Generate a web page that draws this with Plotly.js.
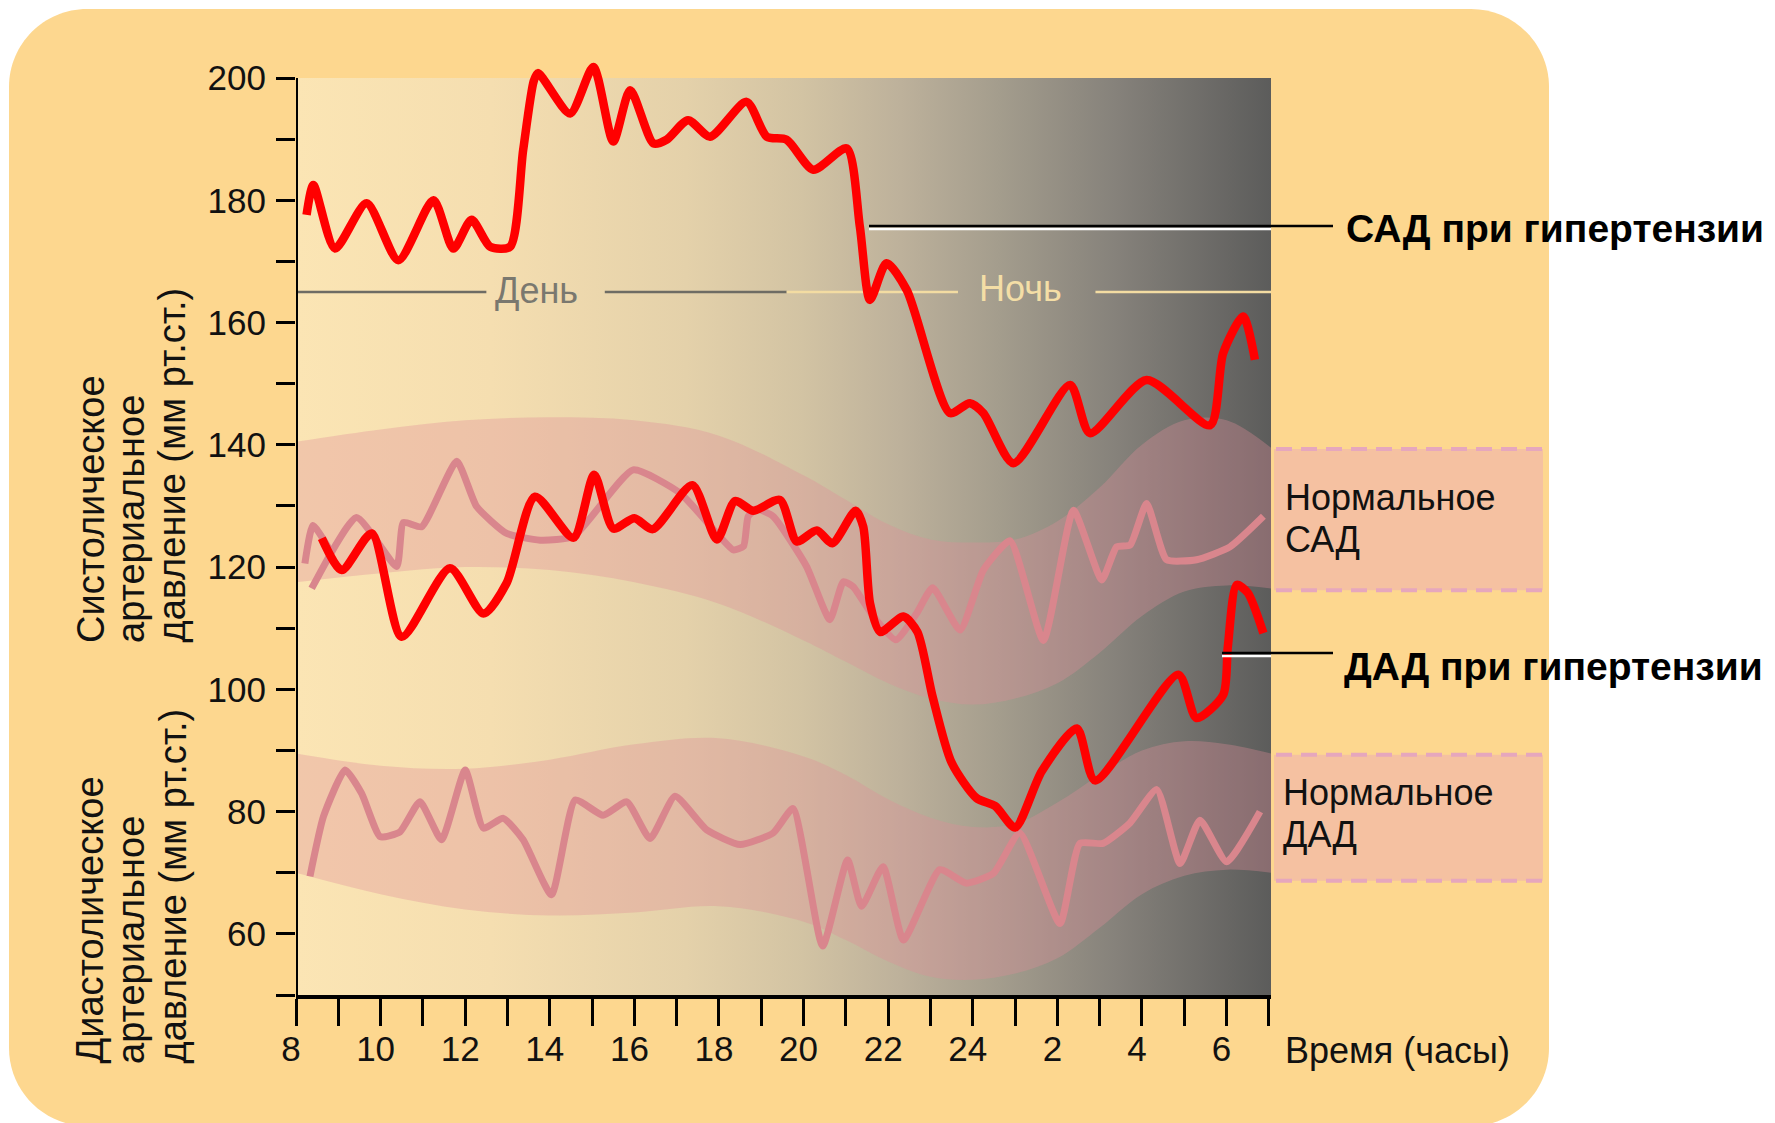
<!DOCTYPE html>
<html>
<head>
<meta charset="utf-8">
<script src="https://cdn.plot.ly/plotly-3.0.1.min.js"></script>
<style>
  html, body { margin: 0; padding: 0; background: #ffffff; }
  #chart { width: 1775px; height: 1123px; }
</style>
</head>
<body>
<div id="chart"></div>
<script>
// ---------------- DATA ----------------
// Time axis: hours from 8:00 (8) through midnight (24) to 7:00 next morning (31)
const hourTicks = [8,9,10,11,12,13,14,15,16,17,18,19,20,21,22,23,24,25,26,27,28,29,30,31];
const hourTickLabels = ['8','','10','','12','','14','','16','','18','','20','','22','','24','','2','','4','','6',''];
const pressureTicks = [50,60,70,80,90,100,110,120,130,140,150,160,170,180,190,200];
const pressureTickLabels = ['','60','','80','','100','','120','','140','','160','','180','','200'];

// Systolic BP with hypertension (САД при гипертензии)
const sadHyperTime  = [8.25, 8.41, 8.92, 9.67, 10.42, 11.25, 11.72, 12.15, 12.59, 13.06, 13.37, 13.62, 13.72, 14.48, 15.03, 15.50, 15.90, 16.45, 16.76, 17.27, 17.79, 18.65, 19.13, 19.60, 20.23, 21.02, 21.33, 21.57, 21.96, 22.44, 23.46, 23.93, 24.25, 24.96, 26.30, 26.77, 28.11, 29.61, 29.92, 30.39, 30.67];
const sadHyperValue = [177.6, 182.5, 172.1, 179.5, 170.2, 180.0, 172.1, 176.8, 172.4, 172.4, 188.2, 199.5, 200.8, 194.2, 201.8, 189.6, 198.0, 189.3, 189.9, 193.1, 190.4, 196.1, 190.4, 189.9, 185.0, 188.5, 175.7, 163.7, 169.7, 165.3, 145.2, 146.8, 145.2, 137.0, 149.8, 141.9, 150.6, 143.2, 155.0, 161.0, 153.9];

// Diastolic BP with hypertension (ДАД при гипертензии)
const dadHyperTime  = [8.61, 9.08, 9.79, 10.50, 11.64, 12.43, 12.98, 13.65, 14.56, 15.05, 15.50, 16.00, 16.43, 17.37, 17.95, 18.38, 18.81, 19.44, 19.84, 20.31, 20.68, 21.23, 21.41, 21.57, 21.81, 22.36, 22.69, 23.05, 23.50, 24.09, 24.53, 25.00, 25.63, 26.46, 26.89, 28.86, 29.29, 29.92, 30.03, 30.24, 30.50, 30.87];
const dadHyperValue = [124.7, 119.5, 125.5, 108.6, 119.8, 112.4, 117.4, 131.5, 124.8, 135.1, 126.3, 128.0, 126.2, 133.4, 124.5, 130.8, 129.2, 131.0, 124.2, 126.0, 123.9, 129.2, 126.6, 114.1, 109.4, 111.9, 109.4, 98.8, 88.0, 82.2, 80.9, 77.4, 86.6, 93.6, 85.1, 102.4, 95.3, 99.1, 107.0, 117.1, 115.8, 109.2];

// Normal systolic BP (Нормальное САД) – short starting stroke, then main curve
const sadNormalTime  = [8.21, 8.40, 8.84, null, 8.37, 9.43, 10.38, 10.54, 10.97, 11.80, 12.27, 12.98, 13.77, 14.56, 15.97, 17.08, 17.95, 18.34, 18.58, 18.69, 18.89, 19.28, 20.07, 20.62, 20.94, 21.17, 21.65, 22.18, 22.67, 23.05, 23.70, 24.25, 24.88, 25.67, 26.38, 27.05, 27.40, 27.72, 28.11, 28.58, 29.29, 30.08, 30.87];
const sadNormalValue = [120.6, 126.8, 122.3, null, 116.5, 128.1, 120.1, 127.3, 126.6, 137.3, 129.9, 125.5, 124.4, 125.0, 135.9, 132.1, 125.5, 122.8, 123.4, 128.3, 129.5, 128.3, 120.1, 111.4, 117.6, 116.8, 111.9, 108.1, 112.4, 116.6, 109.7, 119.5, 124.3, 108.0, 129.3, 117.9, 123.3, 123.6, 130.4, 121.2, 121.2, 123.3, 128.3];

// Normal diastolic BP (Нормальное ДАД)
const dadNormalTime  = [8.33, 8.65, 9.16, 9.55, 9.99, 10.46, 10.93, 11.44, 12.00, 12.43, 12.90, 13.37, 14.04, 14.60, 15.26, 15.82, 16.37, 16.96, 17.71, 18.50, 19.28, 19.75, 20.45, 21.04, 21.37, 21.88, 22.36, 23.22, 23.85, 24.49, 25.11, 26.06, 26.53, 27.08, 27.71, 28.35, 28.90, 29.37, 30.00, 30.79];
const dadNormalValue = [69.4, 79.2, 86.8, 83.0, 75.9, 76.7, 81.6, 75.4, 86.8, 77.3, 78.9, 75.4, 66.4, 81.9, 79.4, 81.6, 75.6, 82.5, 77.0, 74.6, 76.5, 80.5, 58.0, 72.1, 64.5, 71.0, 59.0, 70.5, 68.3, 69.9, 76.5, 61.7, 74.8, 74.8, 78.1, 83.6, 71.5, 78.6, 71.8, 80.0];

// Normal ranges (bands)
const bandTime       = [8, 10, 12, 14, 16, 18, 20, 21, 22, 23, 24, 25, 26, 27, 28, 29, 30, 31.05];
const sadBandUpper   = [140.5, 142.5, 144, 144.5, 144, 141.5, 135, 131, 127, 124.5, 124, 124.5, 127.5, 133, 140, 144, 144, 139.5];
const sadBandLower   = [117.5, 119, 120, 119.5, 117.5, 114, 108, 104.5, 101, 98.5, 97.5, 98.5, 101, 106, 112, 116, 117, 116.5];
const dadBandUpper   = [89.5, 87.5, 87, 88.5, 91, 92, 89, 86, 82, 79, 77.5, 78, 81.5, 86, 90, 91.5, 91, 89.5];
const dadBandLower   = [70, 66.5, 64, 63, 63.5, 64.5, 62, 59, 55.5, 53, 52.5, 53.5, 56, 61, 66.5, 69.5, 70.5, 70];

// Normal range limits shown in the side boxes (at 7:00)
const sadNormalRange = [116.2, 139.3];
const dadNormalRange = [68.7, 89.3];

// ---------------- LAYOUT GEOMETRY ----------------
const W = 1775, H = 1123;
const L = 296, R = 1271, B = 995;
const T200 = 78;          // pixel row of the 200 mmHg line
const T = 54;             // top of the (unclipped) plotting area, leaves room for peaks above 200
const xRange = [8, 31.05];
const axisMax = 200;
const yRange = [50, axisMax + (T200 - T) * (axisMax - 50) / (B - T200)];
const px = x => (x - L) / (R - L);
const py = y => (B - y) / (B - T);

const FONT = 'Liberation Sans, Arial, Helvetica, sans-serif';
const RED = '#ff0000';
const PINK = '#d9868d';
const BAND = 'rgba(222,140,152,0.34)';

function roundedRect(x0, y0, x1, y1, r) {
  const k = 0.5523 * r;
  const P = (x, y) => px(x).toFixed(5) + ',' + py(y).toFixed(5);
  return 'M' + P(x0 + r, y0) +
    ' L' + P(x1 - r, y0) +
    ' C' + P(x1 - r + k, y0) + ' ' + P(x1, y0 + r - k) + ' ' + P(x1, y0 + r) +
    ' L' + P(x1, y1 - r) +
    ' C' + P(x1, y1 - r + k) + ' ' + P(x1 - r + k, y1) + ' ' + P(x1 - r, y1) +
    ' L' + P(x0 + r, y1) +
    ' C' + P(x0 + r - k, y1) + ' ' + P(x0, y1 - r + k) + ' ' + P(x0, y1 - r) +
    ' L' + P(x0, y0 + r) +
    ' C' + P(x0, y0 + r - k) + ' ' + P(x0 + r - k, y0) + ' ' + P(x0 + r, y0) + ' Z';
}

// ---------------- TRACES ----------------
const traces = [];

// background gradient (day -> night), from 50 to 200 mmHg
traces.push({
  x: [xRange[0], xRange[1], xRange[1], xRange[0], xRange[0]],
  y: [yRange[0], yRange[0], axisMax, axisMax, yRange[0]],
  mode: 'lines', fill: 'toself', line: { width: 0 }, hoverinfo: 'skip',
  fillgradient: {
    type: 'horizontal',
    colorscale: [
      [0.00, '#fbe5b4'], [0.20, '#f5deb0'], [0.40, '#e4d1aa'], [0.52, '#d2c3a3'],
      [0.62, '#bdb19b'], [0.72, '#a49d8d'], [0.84, '#86827b'], [1.00, '#5c5c5b']
    ]
  }
});

// normal bands
function band(upper, lower) {
  traces.push({ x: bandTime, y: lower, mode: 'lines', line: { width: 0, shape: 'spline', smoothing: 1 }, hoverinfo: 'skip' });
  traces.push({ x: bandTime, y: upper, mode: 'lines', line: { width: 0, shape: 'spline', smoothing: 1 }, fill: 'tonexty', fillcolor: BAND, hoverinfo: 'skip' });
}
band(sadBandUpper, sadBandLower);
band(dadBandUpper, dadBandLower);

// day / night guide lines (layout decoration)
const guideY = 165, dayEnd = 19.6;
traces.push({ x: [xRange[0], 12.5, null, 15.3, dayEnd], y: [guideY, guideY, null, guideY, guideY], mode: 'lines', line: { color: '#6e6c64', width: 2.5 }, hoverinfo: 'skip' });
traces.push({ x: [dayEnd, 23.65, null, 26.9, xRange[1]], y: [guideY, guideY, null, guideY, guideY], mode: 'lines', line: { color: '#f3dca2', width: 2.5 }, hoverinfo: 'skip' });

// normal curves
traces.push({ x: dadNormalTime, y: dadNormalValue, mode: 'lines', line: { color: PINK, width: 7, shape: 'spline', smoothing: 0.5 }, connectgaps: false, hoverinfo: 'skip' });
traces.push({ x: sadNormalTime, y: sadNormalValue, mode: 'lines', line: { color: PINK, width: 7, shape: 'spline', smoothing: 0.5 }, connectgaps: false, hoverinfo: 'skip' });

// hypertension curves
traces.push({ x: dadHyperTime, y: dadHyperValue, mode: 'lines', line: { color: RED, width: 8.5, shape: 'spline', smoothing: 0.7 }, hoverinfo: 'skip' });
traces.push({ x: sadHyperTime, y: sadHyperValue, mode: 'lines', line: { color: RED, width: 8.5, shape: 'spline', smoothing: 0.7 }, hoverinfo: 'skip' });

// ---------------- SHAPES ----------------
const shapes = [
  { type: 'path', xref: 'paper', yref: 'paper', path: roundedRect(9, 9, 1549, 1126, 78), fillcolor: '#fdd78f', line: { width: 0 }, layer: 'below' },
  // side boxes
  { type: 'rect', xref: 'paper', yref: 'y', x0: px(1274), x1: px(1543), y0: sadNormalRange[0], y1: sadNormalRange[1], fillcolor: '#f5c1a1', line: { width: 0 }, layer: 'below' },
  { type: 'rect', xref: 'paper', yref: 'y', x0: px(1274), x1: px(1543), y0: dadNormalRange[0], y1: dadNormalRange[1], fillcolor: '#f5c1a1', line: { width: 0 }, layer: 'below' },
  // y axis line (ends at 200 mmHg)
  { type: 'line', xref: 'x', yref: 'y', x0: xRange[0], x1: xRange[0], y0: yRange[0], y1: axisMax, line: { color: '#000', width: 4 }, layer: 'above' }
];
[sadNormalRange[0], sadNormalRange[1], dadNormalRange[0], dadNormalRange[1]].forEach(v => {
  shapes.push({ type: 'line', xref: 'paper', yref: 'y', x0: px(1276), x1: px(1543), y0: v, y1: v, line: { color: '#e6a7bd', width: 4, dash: '16px,9px' }, layer: 'above' });
});
// leader lines
function leader(xStart, yPix) {
  shapes.push({ type: 'line', xref: 'paper', yref: 'paper', x0: px(xStart), x1: px(R), y0: py(yPix + 3), y1: py(yPix + 3), line: { color: '#ffffff', width: 2.5 }, layer: 'above' });
  shapes.push({ type: 'line', xref: 'paper', yref: 'paper', x0: px(xStart), x1: px(1333), y0: py(yPix), y1: py(yPix), line: { color: '#000000', width: 2.5 }, layer: 'above' });
}
leader(869, 226);
leader(1222, 653);

// ---------------- ANNOTATIONS ----------------
const annotations = [];
function txt(text, xPix, yPix, opts) {
  annotations.push(Object.assign({
    text: text, xref: 'paper', yref: 'paper', x: px(xPix), y: py(yPix),
    showarrow: false, xanchor: 'left', yanchor: 'middle',
    font: { family: FONT, size: 36, color: '#111111' }
  }, opts || {}));
}
// day / night labels
txt('День', 536, 290, { xanchor: 'center', font: { family: FONT, size: 36, color: '#7a786f' } });
txt('Ночь', 1020, 288, { xanchor: 'center', font: { family: FONT, size: 36, color: '#f4dea6' } });

// right-side labels
txt('<b>САД при гипертензии</b>', 1344, 228, { font: { family: FONT, size: 39, color: '#000000' } });
txt('<b>ДАД при гипертензии</b>', 1342, 666, { font: { family: FONT, size: 39, color: '#000000' } });
txt('Нормальное', 1283, 497);
txt('САД', 1283, 539);
txt('Нормальное', 1281, 792);
txt('ДАД', 1281, 834);
txt('Время (часы)', 1283, 1050);

// rotated y titles
function vtitle(text, xPix, bottomPix) {
  annotations.push({
    text: text, xref: 'paper', yref: 'paper', x: px(xPix), y: py(bottomPix),
    showarrow: false, textangle: -90, xanchor: 'center', yanchor: 'bottom',
    font: { family: FONT, size: 38, color: '#111111' }
  });
}
vtitle('Систолическое', 91, 645);
vtitle('артериальное', 131, 645);
vtitle('давление (мм рт.ст.)', 171, 645);
vtitle('Диастолическое', 89, 1066);
vtitle('артериальное', 131, 1066);
vtitle('давление (мм рт.ст.)', 172, 1066);

// ---------------- LAYOUT ----------------
const layout = {
  width: W, height: H,
  margin: { l: L, r: W - R, t: T, b: H - B, pad: 0 },
  paper_bgcolor: '#ffffff',
  plot_bgcolor: 'rgba(0,0,0,0)',
  showlegend: false,
  xaxis: {
    range: xRange, tickmode: 'array', tickvals: hourTicks, ticktext: hourTickLabels,
    showgrid: false, zeroline: false, showline: true, linecolor: '#000', linewidth: 4,
    ticks: 'outside', ticklen: 27, tickwidth: 3, tickcolor: '#000',
    tickfont: { family: FONT, size: 35, color: '#111' }, ticklabelshift: -5, ticklabelstandoff: -7
  },
  yaxis: {
    range: yRange, tickmode: 'array', tickvals: pressureTicks, ticktext: pressureTickLabels,
    showgrid: false, zeroline: false, showline: false,
    ticks: 'outside', ticklen: 19, tickwidth: 3, tickcolor: '#000',
    tickfont: { family: FONT, size: 35, color: '#111' }, ticklabelstandoff: 3
  },
  shapes: shapes,
  annotations: annotations
};

Plotly.newPlot('chart', traces, layout, { displayModeBar: false, staticPlot: true });
</script>
</body>
</html>
